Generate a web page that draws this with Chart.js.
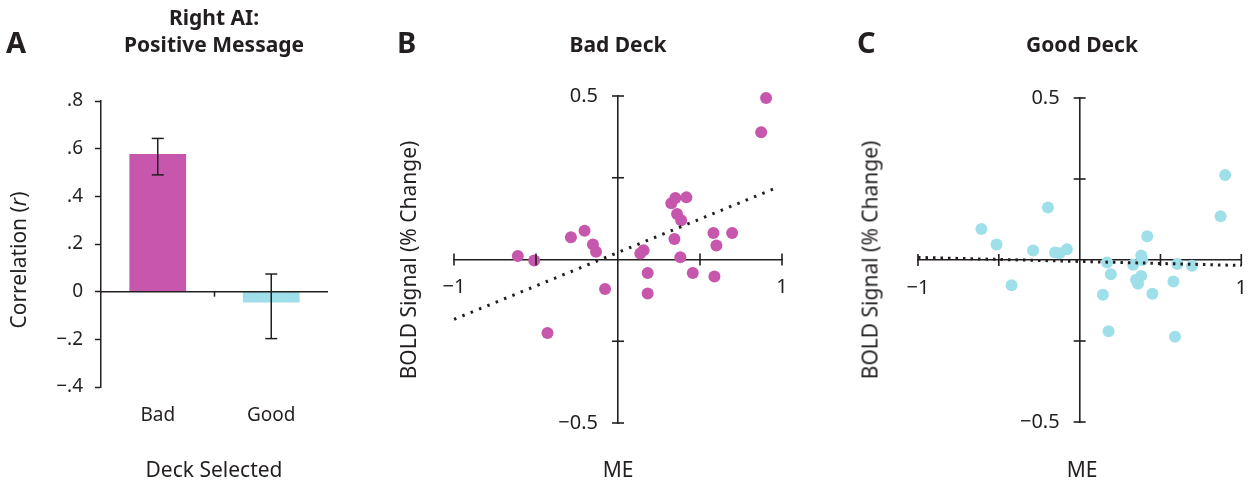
<!DOCTYPE html>
<html>
<head>
<meta charset="utf-8">
<script src="https://cdn.jsdelivr.net/npm/chart.js@4.4.0/dist/chart.umd.min.js"></script>
<style>
  html, body { margin: 0; padding: 0; background: #fff; }
  #wrap { position: relative; width: 1257px; height: 482px; overflow: hidden;
          font-family: "Noto Sans", sans-serif; color: #231f20; }
  canvas { position: absolute; top: 0; }
  .t { position: absolute; white-space: nowrap; line-height: 1; }
  .c { transform: translateX(-50%); }
  .b { font-weight: bold; }
  .rot { transform: translate(-50%, -50%) rotate(-90deg); }
</style>
</head>
<body>
<div id="wrap">
  <canvas id="barA" style="left:0px" width="340" height="482"></canvas>
  <canvas id="scatB" style="left:380px" width="430" height="482"></canvas>
  <canvas id="scatC" style="left:850px" width="407" height="482"></canvas>

  <div class="t b" style="left:6px; top:27px; font-size:29px">A</div>
  <div class="t b" style="left:397px; top:27px; font-size:29px">B</div>
  <div class="t b" style="left:857px; top:27px; font-size:29px">C</div>

  <div class="t b c" style="left:214px; top:7px; font-size:21px">Right AI:</div>
  <div class="t b c" style="left:214px; top:34px; font-size:21px">Positive Message</div>
  <div class="t b c" style="left:618px; top:34px; font-size:21px">Bad Deck</div>
  <div class="t b c" style="left:1082px; top:34px; font-size:21px">Good Deck</div>

  <div class="t rot" style="left:18px; top:260px; font-size:21px">Correlation (<i>r</i>)</div>
  <div class="t rot" style="left:408px; top:260px; font-size:21px">BOLD Signal (% Change)</div>
  <div class="t rot" style="left:870px; top:260px; font-size:21px">BOLD Signal (% Change)</div>

  <div class="t c" style="left:214px; top:459px; font-size:21px">Deck Selected</div>
  <div class="t c" style="left:618px; top:459px; font-size:21px">ME</div>
  <div class="t c" style="left:1082px; top:459px; font-size:21px">ME</div>
</div>

<script>
// panel A: correlation by deck
const decks = ['Bad', 'Good'];
const corr = [0.578, -0.045];
const corrLow = [0.490, -0.197];
const corrHigh = [0.643, 0.074];
const barColors = ['#c756ad', '#9fdfea'];

// panel B: bad deck, ME vs BOLD
const badME = [0.903, 0.873, 0.350, 0.325, 0.417, 0.360, 0.385, 0.344, 0.582, 0.696, 0.600, 0.380, 0.456,
               0.588, 0.181, 0.181, 0.156, 0.136, -0.079, -0.204, -0.287, -0.153, -0.134, -0.611, -0.511, -0.430];
const badBold = [0.494, 0.389, 0.188, 0.172, 0.190, 0.139, 0.120, 0.063, 0.081, 0.081, 0.043, 0.007, -0.041,
                 -0.052, -0.041, -0.104, 0.028, 0.018, -0.090, 0.088, 0.068, 0.046, 0.024, 0.011, -0.003, -0.225];
const badFitX = [-1, 0.97];
const badFitY = [-0.183, 0.220];

// panel C: good deck
const goodME = [0.900, 0.872, 0.418, 0.381, 0.387, 0.331, 0.604, 0.695, 0.170, 0.193, 0.381, 0.349, 0.361,
                0.580, 0.450, 0.144, 0.179, 0.590, -0.196, -0.608, -0.514, -0.288, -0.152, -0.125, -0.079, -0.421];
const goodBold = [0.262, 0.135, 0.073, 0.014, 0.000, -0.015, -0.012, -0.018, -0.008, -0.044, -0.049, -0.061, -0.073,
                  -0.066, -0.104, -0.107, -0.220, -0.237, 0.162, 0.096, 0.048, 0.029, 0.023, 0.021, 0.033, -0.078];
const goodFitX = [-1, 1];
const goodFitY = [0.008, -0.017];

const ink = '#231f20';
const FONT = '"Noto Sans", sans-serif';
Chart.defaults.font.family = FONT;
Chart.defaults.color = ink;

const minus = (s) => s.replace('-', '\u2212');

function line(ctx, x1, y1, x2, y2) {
  ctx.beginPath(); ctx.moveTo(x1, y1); ctx.lineTo(x2, y2); ctx.stroke();
}

// zero line, middle tick and error bars for the bar panel
const barExtras = {
  id: 'barExtras',
  afterDatasetsDraw(chart) {
    const { ctx, chartArea } = chart;
    const xs = chart.scales.x, ys = chart.scales.y;
    const y0 = ys.getPixelForValue(0);
    ctx.save();
    ctx.strokeStyle = ink;
    ctx.lineWidth = 1.5;
    line(ctx, chartArea.left, y0, chartArea.right, y0);
    const mid = xs.getPixelForValue(0.5);
    line(ctx, mid, y0, mid, y0 + 5);
    decks.forEach((d, i) => {
      const x = xs.getPixelForValue(i);
      const top = ys.getPixelForValue(corrHigh[i]);
      const bot = ys.getPixelForValue(corrLow[i]);
      line(ctx, x, top, x, bot);
      line(ctx, x - 6, top, x + 6, top);
      line(ctx, x - 6, bot, x + 6, bot);
    });
    ctx.restore();
  }
};

// tick marks that cross the centred axes
const crossTicks = {
  id: 'crossTicks',
  afterDraw(chart) {
    const { ctx } = chart;
    const xs = chart.scales.x, ys = chart.scales.y;
    const x0 = xs.getPixelForValue(0), y0 = ys.getPixelForValue(0);
    ctx.save();
    ctx.strokeStyle = ink;
    ctx.lineWidth = 1.6;
    xs.ticks.forEach(t => {
      if (t.value === 0) return;
      const px = xs.getPixelForValue(t.value);
      line(ctx, px, y0 - 6, px, y0 + 6);
    });
    ys.ticks.forEach(t => {
      if (t.value === 0) return;
      const py = ys.getPixelForValue(t.value);
      line(ctx, x0 - 6, py, x0 + 6, py);
    });
    ctx.restore();
  }
};

new Chart(document.getElementById('barA'), {
  type: 'bar',
  data: {
    labels: decks,
    datasets: [{
      data: corr,
      backgroundColor: barColors,
      barPercentage: 0.5,
      categoryPercentage: 1,
    }],
  },
  options: {
    responsive: false,
    animation: false,
    layout: { padding: { left: 0, right: 12, top: 101, bottom: 55 } },
    plugins: { legend: { display: false }, tooltip: { enabled: false } },
    scales: {
      x: {
        grid: { display: false, drawTicks: false },
        border: { display: false },
        ticks: { padding: 17, font: { size: 19 }, color: ink },
        afterFit: (s) => { s.height = 40; },
      },
      y: {
        min: -0.4,
        max: 0.8,
        grid: { drawOnChartArea: false, tickLength: 6, tickColor: ink, tickWidth: 1.5 },
        border: { color: ink, width: 1.5 },
        ticks: {
          stepSize: 0.2,
          padding: 12,
          font: { size: 19 },
          color: ink,
          callback: (v) => {
            const n = Math.round(Math.abs(v) * 10);
            if (n === 0) return '0';
            return (v < 0 ? '\u2212' : '') + '.' + n;
          },
        },
        afterFit: (s) => { s.width = 101; },
      },
    },
  },
  plugins: [barExtras],
});

function scatterPanel(id, xs, ys, fitX, fitY, color, pad, dash) {
  new Chart(document.getElementById(id), {
    type: 'scatter',
    data: {
      datasets: [
        {
          type: 'line',
          data: fitX.map((x, i) => ({ x: x, y: fitY[i] })),
          borderColor: ink,
          borderWidth: 3,
          borderDash: dash,
          pointRadius: 0,
          fill: false,
          order: 0,
          clip: false,
        },
        {
          data: xs.map((x, i) => ({ x: x, y: ys[i] })),
          backgroundColor: color,
          borderWidth: 0,
          pointRadius: 6,
          order: 1,
          clip: false,
        },
      ],
    },
    options: {
      responsive: false,
      animation: false,
      layout: { padding: pad },
      plugins: { legend: { display: false }, tooltip: { enabled: false } },
      scales: {
        x: {
          type: 'linear',
          min: -1,
          max: 1,
          position: { y: 0 },
          grid: { drawOnChartArea: false, tickLength: 6, tickColor: 'rgba(0,0,0,0)' },
          border: { color: ink, width: 1.6 },
          ticks: {
            stepSize: 0.5,
            autoSkip: false,
            maxRotation: 0,
            padding: 10,
            font: { size: 20 },
            color: ink,
            callback: (v) => (Math.abs(v) === 1 ? minus(String(v)) : ''),
          },
          afterFit: (s) => { s.height = 0; },
        },
        y: {
          min: -0.5,
          max: 0.5,
          position: { x: 0 },
          grid: { drawOnChartArea: false, tickLength: 6, tickColor: 'rgba(0,0,0,0)' },
          border: { color: ink, width: 1.6 },
          ticks: {
            stepSize: 0.25,
            autoSkip: false,
            padding: 12,
            font: { size: 20 },
            color: ink,
            // trailing em space keeps the label clear of the centred axis
            callback: (v) => (Math.abs(v) === 0.5 ? minus(String(v)) + '\u2003' : ''),
          },
          afterFit: (s) => { s.width = 0; },
        },
      },
    },
    plugins: [crossTicks],
  });
}

scatterPanel('scatB', badME, badBold, badFitX, badFitY, '#c756ad',
  { left: 74, right: 28, top: 96, bottom: 59 }, [2.5, 6.5]);
scatterPanel('scatC', goodME, goodBold, goodFitX, goodFitY, '#9fdfea',
  { left: 68, right: 10, top: 98, bottom: 60 }, [2.5, 5]);
</script>
</body>
</html>
